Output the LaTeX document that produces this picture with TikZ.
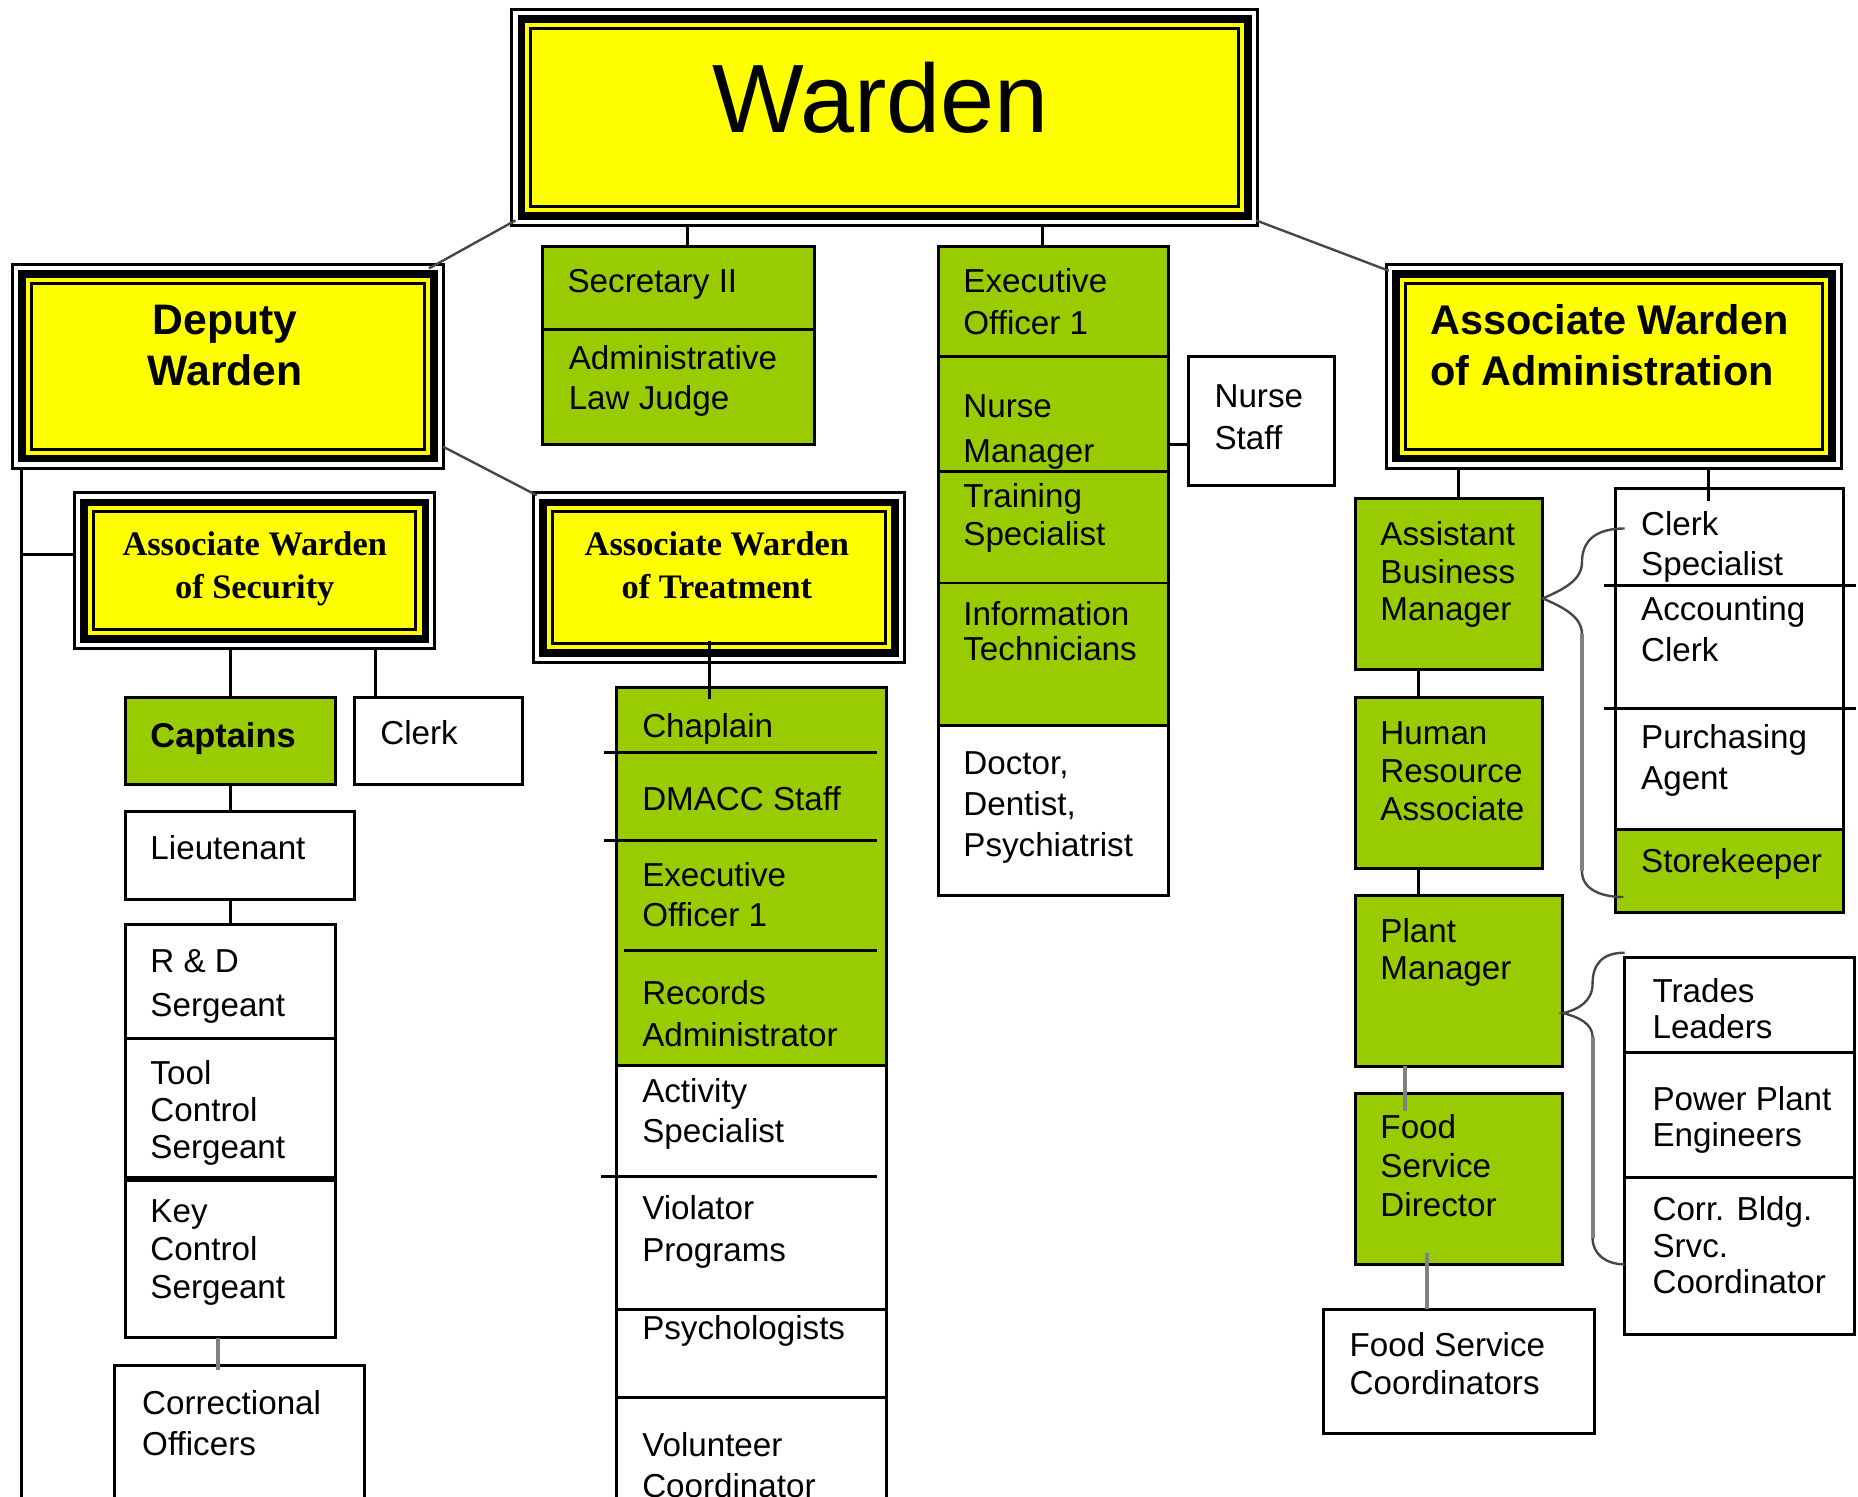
\documentclass[tikz,border=0pt]{standalone}
\usepackage{fontspec}
\setmainfont{Liberation Sans}
\newfontfamily\serifb{Liberation Serif}
\usetikzlibrary{fit,calc}
\definecolor{wyel}{RGB}{255,255,0}
\definecolor{wgrn}{RGB}{153,204,0}
\definecolor{cgray}{RGB}{70,70,70}
\definecolor{lgray}{RGB}{128,128,128}
\newcommand\mlL[2]{\vtop{\baselineskip=#1pt\lineskiplimit=-100pt\lineskip=0pt\halign{##\hfil\cr#2\crcr}}}
\newcommand\mlC[2]{\vtop{\baselineskip=#1pt\lineskiplimit=-100pt\lineskip=0pt\halign{\hfil##\hfil\cr#2\crcr}}}
\newcommand\tribox[5]{%
 \node[draw=black, line width=2.5pt, fill=white, inner sep=0pt, outer sep=0pt, fit={(#2,#3) (#4,#5)}] (#1) {};
 \draw[line width=6.5pt, fill=wyel] ([shift={(8,8)}]#1.north west) rectangle ([shift={(-8,-8)}]#1.south east);
 \draw[line width=2.5pt] ([shift={(16,16)}]#1.north west) rectangle ([shift={(-16,-16)}]#1.south east);
}
\tikzset{
 bx/.style={draw=black, line width=2.5pt, inner sep=0pt, outer sep=0pt},
 gbx/.style={bx, fill=wgrn},
 wbx/.style={bx, fill=white},
 tx/.style={anchor=base west, inner sep=0pt, outer sep=0pt, font=\fontsize{28}{34}\selectfont},
 conn/.style={draw=black, line width=2.5pt},
 diag/.style={draw=cgray, line width=2pt},
 gconn/.style={draw=lgray, line width=3.5pt},
 brc/.style={draw=cgray, line width=2pt},
 dv/.style={draw=black, line width=2.5pt},
}
\begin{document}
\begin{tikzpicture}[x=1pt,y=-1pt]
\useasboundingbox (0,0) rectangle (1568,1263);
\clip (0,0) rectangle (1568,1263);
\fill[white] (0,0) rectangle (1568,1263);

% ---------- triple-framed boxes ----------
\tribox{warden}{432}{8}{1061}{190}
\tribox{deputy}{10.5}{223.5}{374}{395}
\tribox{awsec}{63}{416}{367}{547}
\tribox{awtreat}{450}{416}{763}{559}
\tribox{awadmin}{1170}{223.5}{1554}{395}

% ---------- plain boxes ----------
\node[gbx, fit={(458,208) (687,375)}] (secr) {};
\node[gbx, fit={(792,208) (986,612)}] (exec) {};
\node[wbx, fit={(792,612) (986,756)}] (doc) {};
\node[wbx, fit={(1003,301) (1126,410)}] (nurse) {};
\node[gbx, fit={(106,589) (283,662)}] (capt) {};
\node[wbx, fit={(299,589) (441,662)}] (clerka) {};
\node[wbx, fit={(106,685) (299,759)}] (lieut) {};
\node[wbx, fit={(106,780) (283,1129)}] (rd) {};
\node[wbx, fit={(97,1152) (308,1280)}] (corr) {};
\node[gbx, fit={(520,580) (748,899)}] (chap) {};
\node[wbx, fit={(520,899) (748,1280)}] (act) {};
\node[gbx, fit={(1144,421) (1302,565)}] (abm) {};
\node[wbx, fit={(1363,412) (1556,700)}] (clks) {};
\node[gbx, fit={(1363,700) (1556,770)}] (stk) {};
\node[gbx, fit={(1144,589) (1302,733)}] (hr) {};
\node[gbx, fit={(1144,756) (1319,900)}] (plant) {};
\node[gbx, fit={(1144,923) (1319,1067)}] (fsd) {};
\node[wbx, fit={(1117,1105) (1346,1210)}] (fsc) {};
\node[wbx, fit={(1371,808) (1565,1126)}] (trd) {};

% ---------- dividers ----------
\draw[dv] (458,278) -- (687,278);
\draw[dv] (792,301) -- (986,301);
\draw[dv] (792,398) -- (986,398);
\draw[dv] (792,492) -- (986,492);
\draw[dv] (106,876) -- (283,876);
\draw[line width=5pt] (106,995) -- (283,995);
\draw[dv] (510,635) -- (740,635);
\draw[dv] (510,709) -- (740,709);
\draw[dv] (527,802) -- (740,802);
\draw[dv] (507,993) -- (740,993);
\draw[dv] (520,1105) -- (748,1105);
\draw[dv] (520,1179) -- (748,1179);
\draw[dv] (1354,494) -- (1566,494);
\draw[dv] (1354,598) -- (1566,598);
\draw[dv] (1371,888) -- (1565,888);
\draw[dv] (1371,993.5) -- (1565,993.5);

% ---------- connectors ----------
\draw[diag] ([xshift=3pt,yshift=4pt]warden.south west) -- ([xshift=-12pt,yshift=-3pt]deputy.north east);
\draw[diag] ([xshift=-1pt,yshift=4pt]warden.south east) -- ([xshift=2pt,yshift=-5pt]awadmin.north west);
\draw[diag] ([yshift=18pt]deputy.south east) -- ([xshift=3pt,yshift=-2pt]awtreat.north west);
\draw[conn] ([xshift=7.5pt]secr.north) -- ([xshift=7.5pt]secr.north |- warden.south);
\draw[conn] ([xshift=-9pt]exec.north) -- ([xshift=-9pt]exec.north |- warden.south);
\draw[conn] ([yshift=-19.5pt]nurse.west) -- ([yshift=-19.5pt]nurse.west -| exec.east);
\coordinate (dl) at ([xshift=8pt]deputy.south west);
\draw[conn] (dl) -- (dl |- corr.south);
\draw[conn] ([yshift=13.5pt]awsec.west) -| (dl);
\draw[conn] (capt.north) -- (capt.north |- awsec.south);
\draw[conn] ([xshift=18pt]clerka.north west) -- ([xshift=18pt]clerka.north west |- awsec.south);
\draw[conn] (capt.south) -- (capt.south |- lieut.north);
\draw[conn] (rd.north) -- (rd.north |- lieut.south);
\draw[gconn] ([xshift=-10.5pt]rd.south) -- ([xshift=-18.5pt,yshift=-4pt]corr.north);
\draw[conn] ([xshift=-7.5pt,yshift=18pt]awtreat.south) -- ([xshift=-35pt,yshift=-10pt]chap.north);
\draw[conn] ([xshift=8pt]abm.north) -- ([xshift=8pt]abm.north |- awadmin.south);
\draw[conn] ([xshift=80pt]awadmin.south) -- ([xshift=-17.5pt,yshift=-11pt]clks.north);
\draw[conn] ([xshift=-26pt]hr.north) -- ([xshift=-26pt]hr.north |- abm.south);
\draw[conn] ([xshift=-26pt]hr.south) -- ([xshift=-26pt]hr.south |- plant.north);
\draw[gconn] ([xshift=-45.5pt]plant.south) -- ([xshift=-45.5pt,yshift=-15pt]fsd.north);
\draw[gconn] ([xshift=-27.5pt,yshift=10pt]fsd.south) -- ([xshift=-27.5pt]fsc.north);

% braces
\coordinate (b1u) at ([shift={(8,34)}]clks.north west);
\coordinate (b1t) at ([yshift=-12pt]abm.east);
\coordinate (b1l) at ([shift={(7,-13)}]stk.south west);
\draw[brc] (b1u) .. controls (1348,446) and (1335,455) .. (1335,475)
  .. controls (1335,490) and (1318,498) .. (b1t)
  .. controls (1318,512) and (1335,520) .. (1335,535) -- (1335,735)
  .. controls (1335,750) and (1350,757) .. (b1l);
\draw[gconn] (1335,535) -- (1335,735);
\coordinate (b2u) at ([yshift=4pt]trd.north west);
\coordinate (b2t) at ([yshift=-27pt]plant.east);
\coordinate (b2l) at ([yshift=59pt]trd.south west);
\draw[brc] (b2u) .. controls (1352,804) and (1344,814) .. (1344,830)
  .. controls (1344,845) and (1332,852) .. (b2t)
  .. controls (1332,858) and (1344,864) .. (1344,875) -- (1344,1045)
  .. controls (1344,1058) and (1355,1067) .. (b2l);
\draw[gconn] (1344,875) -- (1344,1045);

% ---------- texts ----------
\node[anchor=base, inner sep=0pt, font=\fontsize{82}{90}\selectfont] (t-war) at (743,112) {Warden};
\node[anchor=base, inner sep=0pt, font=\bfseries\fontsize{36}{43}\selectfont] (t-dep) at (190,282) {\mlC{43}{Deputy\cr Warden}};
\node[anchor=base west, inner sep=0pt, font=\bfseries\fontsize{35}{43}\selectfont] (t-awa) at (1207,282) {\mlL{43}{Associate Warden\cr of Administration}};
\node[anchor=base, inner sep=0pt, font=\serifb\bfseries\fontsize{29}{36}\selectfont] (t-aws) at (215,469) {\mlC{36}{Associate Warden\cr of Security}};
\node[anchor=base, inner sep=0pt, font=\serifb\bfseries\fontsize{29}{36}\selectfont] (t-awt) at (605,469) {\mlC{36}{Associate Warden\cr of Treatment}};

\node[tx] (t1) at (479,247) {Secretary II};
\node[tx] (t2) at (480,312) {\mlL{34}{Administrative\cr Law Judge}};
\node[tx] (t3) at (813,247) {\mlL{35}{Executive\cr Officer 1}};
\node[tx] (t4) at (813,352) {\mlL{38}{Nurse\cr Manager}};
\node[tx] (t5) at (813,428) {\mlL{32}{Training\cr Specialist}};
\node[tx] (t6) at (813,528) {\mlL{29.5}{Information\cr Technicians}};
\node[tx] (t7) at (813,654) {\mlL{34.5}{Doctor,\cr Dentist,\cr Psychiatrist}};
\node[tx] (t8) at (1025,344) {\mlL{35}{Nurse\cr Staff}};

\node[tx, font=\bfseries\fontsize{29}{34}\selectfont] (t9) at (127,631) {Captains};
\node[tx] (t10) at (321,628) {Clerk};
\node[tx] (t11) at (127,725) {Lieutenant};
\node[tx] (t12) at (127,821) {\mlL{37}{R \& D\cr Sergeant}};
\node[tx] (t13) at (127,915.5) {\mlL{31}{Tool\cr Control\cr Sergeant}};
\node[tx] (t14) at (127,1032) {\mlL{32}{Key\cr Control\cr Sergeant}};
\node[tx] (t15) at (120,1194) {\mlL{34}{Correctional\cr Officers}};

\node[tx] (t16) at (542,622.5) {Chaplain};
\node[tx] (t17) at (542,684) {DMACC Staff};
\node[tx] (t18) at (542,748) {\mlL{34}{Executive\cr Officer 1}};
\node[tx] (t19) at (542,848) {\mlL{35.5}{Records\cr Administrator}};
\node[tx] (t20) at (542,930.5) {\mlL{34}{Activity\cr Specialist}};
\node[tx] (t21) at (542,1029.5) {\mlL{35}{Violator\cr Programs}};
\node[tx] (t22) at (542,1130) {Psychologists};
\node[tx] (t23) at (542,1229) {\mlL{35}{Volunteer\cr Coordinator}};

\node[tx] (t24) at (1165,460) {\mlL{32}{Assistant\cr Business\cr Manager}};
\node[tx] (t25) at (1385,451.5) {\mlL{34.5}{Clerk\cr Specialist}};
\node[tx] (t26) at (1385,523.6) {\mlL{35}{Accounting\cr Clerk}};
\node[tx] (t27) at (1385,632) {\mlL{34}{Purchasing\cr Agent}};
\node[tx] (t28) at (1385,736.5) {Storekeeper};
\node[tx] (t29) at (1165,628.3) {\mlL{32}{Human\cr Resource\cr Associate}};
\node[tx] (t30) at (1165,795.7) {\mlL{31}{Plant\cr Manager}};
\node[tx] (t31) at (1165,961) {\mlL{33}{Food\cr Service\cr Director}};
\node[tx] (t32) at (1139,1144.5) {\mlL{32}{Food Service\cr Coordinators}};
\node[tx] (t33) at (1394.6,845.6) {\mlL{30.5}{Trades\cr Leaders}};
\node[tx] (t34) at (1394.6,936.8) {\mlL{31}{Power Plant\cr Engineers}};
\node[tx] (t35) at (1394.6,1030.4) {\mlL{30.5}{Corr. Bldg.\cr Srvc.\cr Coordinator}};
\end{tikzpicture}
\end{document}
